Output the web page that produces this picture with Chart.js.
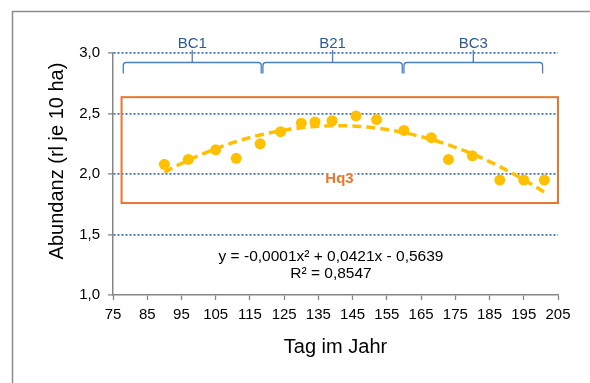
<!DOCTYPE html>
<html>
<head>
<meta charset="utf-8">
<script src="https://cdn.jsdelivr.net/npm/chart.js@4.4.1/dist/chart.umd.min.js"></script>
<style>
html,body{margin:0;padding:0;background:#fff;}
#wrap{position:relative;width:590px;height:383px;}
</style>
</head>
<body>
<div id="wrap"><canvas id="chart" width="590" height="383"></canvas></div>
<script>
// values
var days = [90, 97, 105, 111, 118, 124, 130, 134, 139, 146, 152, 160, 168, 173, 180, 188, 195, 201];
var abundance = [2.08, 2.12, 2.20, 2.13, 2.25, 2.35, 2.42, 2.43, 2.44, 2.48, 2.45, 2.36, 2.30, 2.12, 2.15, 1.95, 1.95, 1.95];
var xTicks = [75, 85, 95, 105, 115, 125, 135, 145, 155, 165, 175, 185, 195, 205];
var yTicks = [1.0, 1.5, 2.0, 2.5, 3.0];

// period brackets on top (day ranges)
var groupNames = ['BC1', 'B21', 'BC3'];
var groupStart = [78, 118.8, 160];
var groupEnd = [118.3, 159.5, 200.5];

// habitat box
var boxLabel = 'Hq3';
var boxDays = [77.5, 205];
var boxAbund = [1.76, 2.635];

var equationLines = ['y = -0,0001x\u00b2 + 0,0421x - 0,5639', 'R\u00b2 = 0,8547'];

var gray = '#868686';
var gold = '#FFC000';
var orange = '#E8772E';

// quadratic least squares trend (like the spreadsheet trendline)
function polyFit2(xs, ys) {
    var s = [0, 0, 0, 0, 0], t = [0, 0, 0];
    for (var i = 0; i < xs.length; i++) {
        var p = 1;
        for (var k = 0; k < 5; k++) {
            s[k] += p;
            if (k < 3) t[k] += ys[i] * p;
            p *= xs[i];
        }
    }
    var m = [[s[0], s[1], s[2], t[0]], [s[1], s[2], s[3], t[1]], [s[2], s[3], s[4], t[2]]];
    for (var c = 0; c < 3; c++) {
        for (var r = c + 1; r < 3; r++) {
            var f = m[r][c] / m[c][c];
            for (var j = c; j < 4; j++) m[r][j] -= f * m[c][j];
        }
    }
    var res = [0, 0, 0];
    for (var r2 = 2; r2 >= 0; r2--) {
        var v = m[r2][3];
        for (var j2 = r2 + 1; j2 < 3; j2++) v -= m[r2][j2] * res[j2];
        res[r2] = v / m[r2][r2];
    }
    return res;
}
var coef = polyFit2(days, abundance);
var trend = [];
for (var d = days[0]; d <= days[days.length - 1]; d++) {
    trend.push({x: d, y: coef[0] + coef[1] * d + coef[2] * d * d});
}

var points = days.map(function (v, i) { return {x: v, y: abundance[i]}; });

var extras = {
    id: 'extras',
    beforeDraw: function (chart) {
        var ctx = chart.ctx;
        ctx.save();
        ctx.fillStyle = '#fff';
        ctx.fillRect(0, 0, chart.width, chart.height);
        // outer frame
        ctx.strokeStyle = '#8c8c8c';
        ctx.lineWidth = 1.5;
        ctx.beginPath();
        ctx.moveTo(12.5, chart.height);
        ctx.lineTo(12.5, 11.5);
        ctx.lineTo(chart.width, 11.5);
        ctx.stroke();
        // y axis title
        ctx.translate(62.5, 161);
        ctx.rotate(-Math.PI / 2);
        ctx.fillStyle = '#000';
        ctx.font = '20px "Liberation Sans", Arial, sans-serif';
        ctx.textAlign = 'center';
        ctx.textBaseline = 'alphabetic';
        ctx.fillText('Abundanz (rl je 10 ha)', 0, 0);
        ctx.restore();
    },
    beforeDatasetsDraw: function (chart) {
        var ctx = chart.ctx, xs = chart.scales.x, ys = chart.scales.y;
        var top = chart.chartArea.top;
        ctx.save();
        // orange box
        var bx1 = xs.getPixelForValue(boxDays[0]), bx2 = xs.getPixelForValue(boxDays[1]);
        var by1 = ys.getPixelForValue(boxAbund[1]), by2 = ys.getPixelForValue(boxAbund[0]);
        ctx.strokeStyle = orange;
        ctx.lineWidth = 2;
        ctx.strokeRect(bx1, by1, bx2 - bx1, by2 - by1);
        ctx.font = 'bold 15px "Liberation Sans", Arial, sans-serif';
        ctx.textAlign = 'center';
        ctx.textBaseline = 'alphabetic';
        var lw = ctx.measureText(boxLabel).width;
        ctx.fillStyle = '#fff';
        ctx.fillRect(339.5 - lw / 2 - 1, 169, lw + 2, 15);
        ctx.fillStyle = orange;
        ctx.fillText(boxLabel, 339.5, 182.5);

        // brackets
        ctx.strokeStyle = '#4A7EBB';
        ctx.lineWidth = 1.3;
        ctx.font = '15px "Liberation Sans", Arial, sans-serif';
        var barY = top + 9.5, endY = top + 20.5, tipY = top - 3, rr = 3;
        for (var i = 0; i < groupNames.length; i++) {
            var x1 = xs.getPixelForValue(groupStart[i]);
            var x2 = xs.getPixelForValue(groupEnd[i]);
            var xm = (x1 + x2) / 2;
            ctx.beginPath();
            ctx.moveTo(x1, endY);
            ctx.lineTo(x1, barY + rr);
            ctx.arcTo(x1, barY, x1 + rr, barY, rr);
            ctx.lineTo(x2 - rr, barY);
            ctx.arcTo(x2, barY, x2, barY + rr, rr);
            ctx.lineTo(x2, endY);
            ctx.moveTo(xm, barY);
            ctx.lineTo(xm, tipY);
            ctx.stroke();
            ctx.fillStyle = '#2F5A8F';
            ctx.fillText(groupNames[i], xm, top - 5.5);
        }
        ctx.restore();
    },
    afterDraw: function (chart) {
        var ctx = chart.ctx;
        ctx.save();
        ctx.fillStyle = '#000';
        ctx.font = '15.5px "Liberation Sans", Arial, sans-serif';
        ctx.textAlign = 'center';
        ctx.textBaseline = 'alphabetic';
        ctx.fillText(equationLines[0], 331, 260.5);
        ctx.fillText(equationLines[1], 331, 277.5);
        ctx.restore();
    }
};

var chart = new Chart(document.getElementById('chart').getContext('2d'), {
    type: 'scatter',
    data: {
        datasets: [
            {
                type: 'scatter',
                data: points,
                backgroundColor: gold,
                borderColor: gold,
                borderWidth: 0,
                pointRadius: 5.5,
                order: 1
            },
            {
                type: 'line',
                data: trend,
                borderColor: gold,
                borderWidth: 3.5,
                borderDash: [9, 5],
                pointRadius: 0,
                fill: false,
                tension: 0,
                order: 0
            }
        ]
    },
    options: {
        responsive: false,
        animation: false,
        layout: {padding: {left: 12, top: 53, right: 32, bottom: 0}},
        plugins: {legend: {display: false}, tooltip: {enabled: false}},
        scales: {
            x: {
                type: 'linear',
                position: 'bottom',
                min: xTicks[0],
                max: xTicks[xTicks.length - 1],
                afterBuildTicks: function (s) { s.ticks = xTicks.map(function (v) { return {value: v}; }); },
                afterFit: function (s) { s.height = 88; },
                ticks: {
                    font: {family: '"Liberation Sans", Arial, sans-serif', size: 15},
                    color: '#000',
                    padding: 6,
                    maxRotation: 0,
                    autoSkip: false,
                    callback: function (v) { return String(v); }
                },
                grid: {drawOnChartArea: false, drawTicks: true, tickLength: 5, color: gray, tickColor: gray, tickWidth: 1.3},
                border: {color: gray, width: 1.5},
                title: {
                    display: true,
                    text: 'Tag im Jahr',
                    color: '#000',
                    font: {family: '"Liberation Sans", Arial, sans-serif', size: 20},
                    padding: {top: 0, bottom: 24}
                }
            },
            y: {
                type: 'linear',
                min: yTicks[0],
                max: yTicks[yTicks.length - 1],
                afterBuildTicks: function (s) { s.ticks = yTicks.map(function (v) { return {value: v}; }); },
                afterFit: function (s) { s.width = 101; },
                ticks: {
                    font: {family: '"Liberation Sans", Arial, sans-serif', size: 15},
                    color: '#000',
                    padding: 8,
                    callback: function (v) { return v.toFixed(1).replace('.', ','); }
                },
                grid: {
                    color: function (c) { return c.tick && c.tick.value === yTicks[0] ? 'rgba(0,0,0,0)' : '#4472C4'; },
                    lineWidth: 1.8,
                    tickLength: 5,
                    tickColor: gray,
                    tickWidth: 1.3,
                    tickBorderDash: []
                },
                border: {color: gray, width: 1.5, dash: [2, 2]}
            }
        }
    },
    plugins: [extras]
});
</script>
</body>
</html>
